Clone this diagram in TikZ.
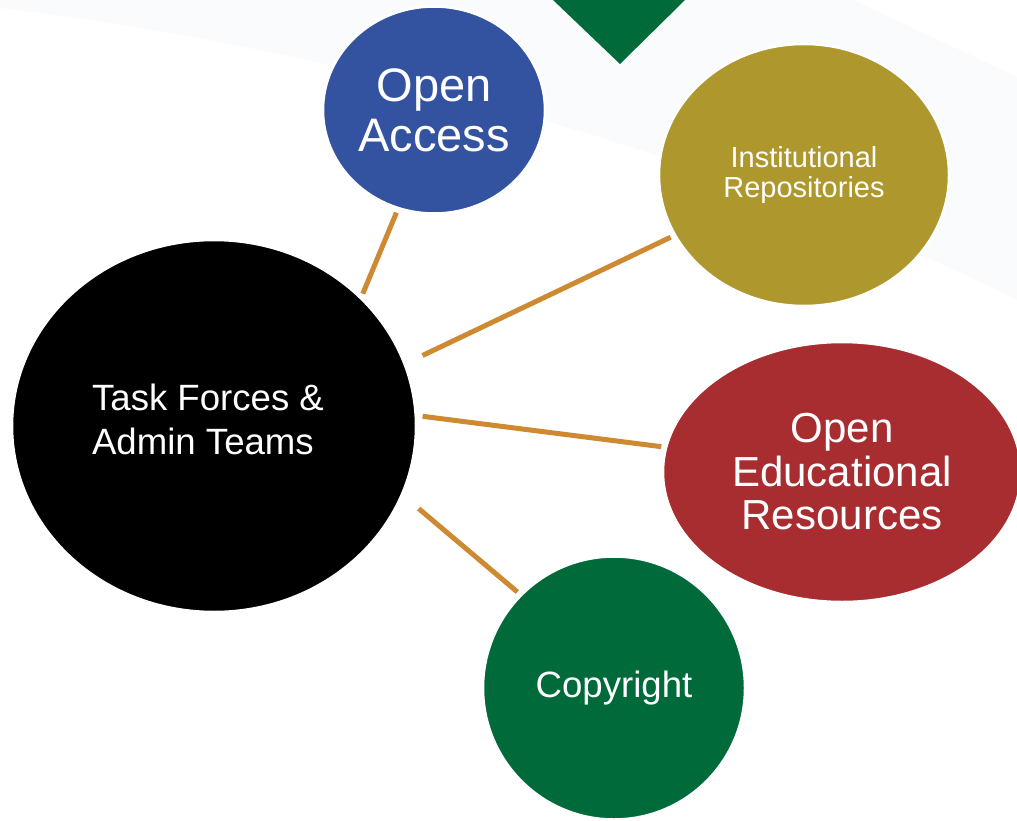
\documentclass[tikz,border=0pt]{standalone}
\usepackage{fontspec}
\setmainfont{Liberation Sans}
\usepackage{xcolor}
\usepackage{tikz}
\usetikzlibrary{shapes.geometric,positioning}
\definecolor{ctBlue}  {RGB}{ 51, 83,160}
\definecolor{ctOlive} {RGB}{174,151, 45}
\definecolor{ctRed}   {RGB}{168, 45, 48}
\definecolor{ctGreen} {RGB}{  0,106, 58}
\definecolor{ctLink}  {RGB}{205,138, 50}
\definecolor{ctBand}  {RGB}{250,251,252}

\begin{document}
\begin{tikzpicture}[
  x=1pt,y=-1pt,
  bubble/.style={ellipse,draw=white,line width=2.5pt,text=white,
                 inner sep=0pt,outer sep=0pt,align=center},
  link/.style={draw=ctLink,line width=5pt},
  fxl/.style={font=\fontsize{47}{50}\selectfont},
  fxm/.style={font=\fontsize{42}{43.5}\selectfont},
  fxn/.style={font=\fontsize{36.6}{44}\selectfont},
  fxs/.style={font=\fontsize{29}{30}\selectfont}
]
\useasboundingbox (0,0) rectangle (1017,821);
\clip (0,0) rectangle (1017,821);

% --- background swoosh and marker
\fill[ctBand] (0,0) -- (0,8) .. controls (400,55) and (800,190) .. (1017,300)
   -- (1017,77) .. controls (960,50) and (900,22) .. (853,0) -- cycle;
\fill[ctGreen] (553,0) -- (685,0) -- (620,64) -- cycle;

% --- bubbles
\node[bubble,fill=black,minimum width=404,minimum height=372,align=left,
      text depth=14pt,fxn]
   (tf) at (214,426) {Task Forces \&\hspace*{12pt}\\Admin Teams};
\node[bubble,fill=ctBlue,minimum width=222,minimum height=207,fxl]
   (oa) at (434,110) {Open\\Access};
\node[bubble,fill=ctOlive,minimum width=290,minimum height=262,fxs]
   (ir) at (804,175) {Institutional\\Repositories};
\node[bubble,fill=ctRed,minimum width=358,minimum height=260,fxm]
   (oer) at (842,472) {Open\\Educational\\Resources};
\node[bubble,fill=ctGreen,minimum width=262,minimum height=263,fxn]
   (cr) at (614,688) {Copyright};

% --- links
\draw[link,shorten <=5,shorten >=5]  (tf.41)  -- (oa.250);
\draw[link,shorten <=20,shorten >=5] (tf.18)  -- (ir.205);
\draw[link,shorten <=7,shorten >=5]  (tf.3)   -- (oer.172);
\draw[link,shorten <=22,shorten >=5] (tf.340) -- (cr.135);
\end{tikzpicture}
\end{document}
